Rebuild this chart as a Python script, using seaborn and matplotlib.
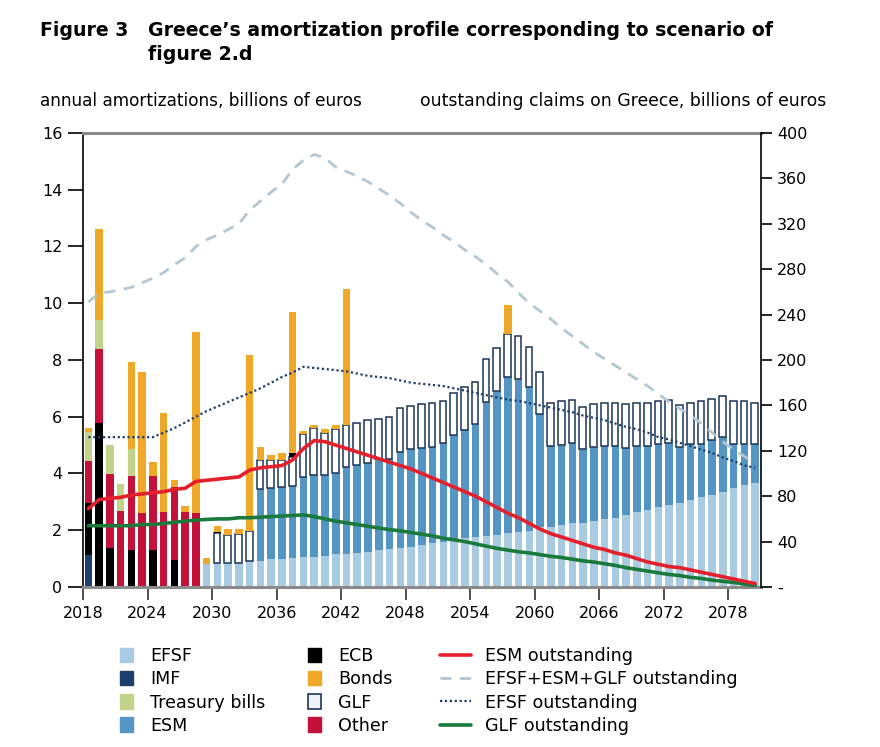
import numpy as np
import matplotlib
matplotlib.use("Agg")
import matplotlib.pyplot as plt
import seaborn as sns
from matplotlib.patches import Patch
from matplotlib.lines import Line2D
from matplotlib.ticker import FuncFormatter

# years 2018 .. 2080
years = list(range(2018, 2081))

# annual amortizations, billions of euros (left axis)
efsf = [0, 0, 0, 0, 0, 0, 0, 0, 0, 0, 0,
        0.80, 0.85, 0.85, 0.85, 0.92, 0.93, 0.97, 0.98, 1.02, 1.04,
        1.07, 1.10, 1.15, 1.18, 1.20, 1.24, 1.30, 1.33, 1.36, 1.42,
        1.48, 1.54, 1.60, 1.66, 1.72, 1.77, 1.79, 1.83, 1.89, 1.95,
        1.99, 2.10, 2.13, 2.19, 2.24, 2.27, 2.34, 2.39, 2.42, 2.54,
        2.66, 2.71, 2.81, 2.89, 2.97, 3.07, 3.16, 3.24, 3.36, 3.48,
        3.60, 3.65]
imf = [1.12] + [0] * 62
esm = [0] * 16 + [
        2.51, 2.51, 2.53, 2.54, 2.83, 2.88, 2.85, 2.88, 3.06, 3.10,
        3.14, 3.20, 3.17, 3.41, 3.43, 3.41, 3.41, 3.46, 3.70, 3.81,
        3.98, 4.74, 5.06, 5.50, 5.37, 5.07, 4.00, 2.84, 2.83, 2.85,
        2.58, 2.58, 2.58, 2.55, 2.36, 2.31, 2.26, 2.22, 2.17, 1.95,
        1.97, 1.89, 1.94, 1.91, 1.56, 1.44, 1.39]
glf = [0] * 12 + [
        1.05, 0.98, 1.00, 1.04, 1.04, 1.00, 0.97, 1.03, 1.52, 1.64,
        1.46, 1.53, 1.47, 1.47, 1.51, 1.42, 1.48, 1.53, 1.53, 1.55,
        1.55, 1.51, 1.49, 1.53, 1.49, 1.50, 1.52, 1.53, 1.53, 1.41,
        1.46, 1.53, 1.54, 1.51, 1.51, 1.52, 1.53, 1.53, 1.54, 1.53,
        1.53, 1.54, 1.54, 1.50, 1.46, 1.51, 1.44, 1.45, 1.53, 1.53,
        1.46]
ecb = [1.83, 5.77, 1.36, 0, 1.29, 0, 1.29, 0, 0.95, 0, 0,
       0, 0.05, 0, 0, 0, 0, 0, 0, 0.12] + [0] * 43
other = [1.50, 2.61, 2.62, 2.68, 2.62, 2.60, 2.62, 2.65, 2.56, 2.65, 2.60] + [0] * 52
tbills = [1.02, 1.03, 1.02, 0.95, 0.96] + [0] * 58
bonds = [0.12, 3.19, 0, 0, 3.05, 4.97, 0.48, 3.47, 0.26, 0.20, 6.37,
         0.21, 0.20, 0.20, 0.20, 6.22, 0.46, 0.17, 0.23, 4.97, 0.12,
         0.12, 0.15, 0.14, 4.78, 0, 0, 0, 0, 0, 0,
         0, 0, 0, 0, 0, 0, 0, 0, 1.00] + [0] * 23

# outstanding claims on Greece, billions of euros (right axis)
total_out = [251, 259, 260, 262, 264, 268, 272, 277, 284, 290, 300,
             306, 310, 315, 320, 332, 340, 348, 355, 368, 376,
             381, 378, 370, 366, 362, 357, 351, 345, 338, 330,
             323, 317, 310, 304, 297, 291, 284, 276, 269, 259,
             250, 243, 236, 228, 221, 214, 207, 201, 195, 189,
             183, 177, 170, 163, 157, 151, 144, 136, 128, 121,
             115, 109]
efsf_out = [132, 132, 132, 132, 132, 132, 132, 136, 140, 145, 150,
            155, 159, 163, 167, 171, 175, 180, 185, 189, 194,
            193, 192, 191, 190, 188, 186, 185, 184, 182, 180,
            179, 178, 177, 175, 173, 171, 169, 167, 165, 164,
            162, 160, 158, 156, 154, 151, 149, 147, 144, 141,
            139, 136, 132, 130, 127, 124, 121, 118, 114, 111,
            107, 105]
esm_out = [69, 77, 78, 79, 81, 82, 83, 84, 86, 87, 93,
           94, 95, 96, 97, 103, 105, 106, 107, 112, 122,
           129, 128, 125, 122, 119, 116, 113, 110, 107, 104,
           100, 96, 92, 88, 84, 80, 75, 70, 65, 61,
           56, 51, 47, 44, 41, 38, 35, 33, 30, 28,
           25, 22, 20, 18, 17, 15, 13, 11, 9, 7,
           5, 3]
glf_out = [54, 54, 54, 54, 54, 55, 55, 56, 57, 58, 59,
           59.5, 60, 60, 61, 61, 61.5, 62, 62.5, 63, 63.5,
           62, 60, 58, 56.5, 55, 53.5, 52, 50.5, 49.5, 48,
           46.5, 45, 43, 41.5, 40, 38, 36, 34, 32.5, 31,
           30, 28.5, 27, 26, 24.5, 23, 22, 20.5, 19, 17,
           15.5, 14, 12.5, 11, 10, 8.5, 7.5, 6, 5, 4,
           2.5, 1]

c_efsf, c_imf, c_tb, c_esm = "#a9cbe2", "#1d3f6e", "#c3d48a", "#5495c3"
c_ecb, c_bonds, c_glf_edge, c_other = "#000000", "#f0a828", "#1d3656", "#c4113a"
c_total = "#b3c7d3"

sns.set_theme(style="white")
plt.rcParams["font.family"] = ["DejaVu Sans"]
plt.rcParams["text.color"] = "black"
plt.rcParams["xtick.color"] = "black"
plt.rcParams["ytick.color"] = "black"

fig = plt.figure(figsize=(8.8, 7.47), dpi=100)
ax = fig.add_axes([0.0943, 0.2142, 0.7700, 0.6078])

layers = [("EFSF", efsf, c_efsf), ("IMF", imf, c_imf), ("ESM", esm, c_esm),
          ("GLF", glf, None), ("ECB", ecb, c_ecb), ("Other", other, c_other),
          ("Treasury bills", tbills, c_tb), ("Bonds", bonds, c_bonds)]

xs = np.array(years) + 0.15
bottom = np.zeros(len(years))
for name, vals, col in layers:
    vals = np.array(vals, dtype=float)
    m = vals > 0
    if col is None:
        ax.bar(xs[m], vals[m], width=0.62, bottom=bottom[m], align="edge",
               facecolor="white", edgecolor=c_glf_edge, linewidth=1.1)
    else:
        ax.bar(xs[m], vals[m], width=0.7, bottom=bottom[m], align="edge",
               color=col, linewidth=0)
    bottom += vals

ax.set_xlim(2018, 2081)
ax.set_ylim(0, 16)
ax.set_yticks(range(0, 17, 2))
ax.set_xticks(range(2018, 2079, 6))
ax.tick_params(axis="y", left=True, direction="out", length=11, width=1.2,
               color="black", labelcolor="black", labelsize=11.5, pad=4)
ax.tick_params(axis="x", bottom=True, direction="out", length=9, width=1.2,
               color="#333333", labelcolor="black", labelsize=11.5, pad=5)
for s in ["top", "bottom"]:
    ax.spines[s].set_color("#8a8a8a")
    ax.spines[s].set_linewidth(2.2)
ax.spines["left"].set_color("black")
ax.spines["left"].set_linewidth(1.2)
ax.spines["right"].set_visible(False)

# outstanding lines on the right axis
ax2 = ax.twinx()
lx = np.array(years) + 0.5
sns.lineplot(x=lx, y=total_out, ax=ax2, color=c_total, linewidth=2,
             linestyle=(0, (4, 3)))
sns.lineplot(x=lx, y=efsf_out, ax=ax2, color="#1d3f6e", linewidth=1.6,
             linestyle=(0, (1, 1.2)))
sns.lineplot(x=lx, y=glf_out, ax=ax2, color="#1a7a3c", linewidth=2.6)
sns.lineplot(x=lx, y=esm_out, ax=ax2, color="#e4202c", linewidth=2.6)
ax2.set_ylim(0, 400)
ax2.set_xlim(2018, 2081)
ax2.set_yticks(range(0, 401, 40))
ax2.yaxis.set_major_formatter(FuncFormatter(lambda v, p: "-" if v == 0 else f"{v:.0f}"))
ax2.tick_params(axis="y", right=True, direction="out", length=8, width=1.2,
                color="black", labelcolor="black", labelsize=11.5, pad=4)
for s in ["top", "bottom", "left"]:
    ax2.spines[s].set_visible(False)
ax2.spines["right"].set_color("black")
ax2.spines["right"].set_linewidth(1.2)
ax2.grid(False)
ax.grid(False)

# titles
fig.text(40 / 880, 1 - 30 / 747, "Figure 3", fontsize=13.6, fontweight="bold", va="center")
fig.text(148 / 880, 1 - 30 / 747, "Greece\u2019s amortization profile corresponding to scenario of",
         fontsize=13.6, fontweight="bold", va="center")
fig.text(148 / 880, 1 - 55 / 747, "figure 2.d", fontsize=13.6, fontweight="bold", va="center")
fig.text(40 / 880, 1 - 101 / 747, "annual amortizations, billions of euros", fontsize=12.2, va="center")
fig.text(826 / 880, 1 - 101 / 747, "outstanding claims on Greece, billions of euros",
         fontsize=12.4, va="center", ha="right")

# legends
leg_kw = dict(frameon=False, fontsize=12.6, borderpad=0, labelspacing=0.3,
              loc="upper left", borderaxespad=0)
h1 = [Patch(color=c_efsf, label="EFSF"), Patch(color=c_imf, label="IMF"),
      Patch(color=c_tb, label="Treasury bills"), Patch(color=c_esm, label="ESM")]
h2 = [Patch(color=c_ecb, label="ECB"), Patch(color=c_bonds, label="Bonds"),
      Patch(facecolor="#eef3fa", edgecolor=c_glf_edge, linewidth=1.2, label="GLF"),
      Patch(color=c_other, label="Other")]
h3 = [Line2D([], [], color="#e4202c", lw=2.6, label="ESM outstanding"),
      Line2D([], [], color=c_total, lw=2, ls=(0, (4, 3)), label="EFSF+ESM+GLF outstanding"),
      Line2D([], [], color="#1d3f6e", lw=1.6, ls=(0, (1, 1.2)), label="EFSF outstanding"),
      Line2D([], [], color="#1a7a3c", lw=2.6, label="GLF outstanding")]
fig.legend(handles=h1, bbox_to_anchor=(120 / 880, 1 - 647 / 747), handlelength=0.72,
           handleheight=0.9, handletextpad=1.0, **leg_kw)
fig.legend(handles=h2, bbox_to_anchor=(308 / 880, 1 - 647 / 747), handlelength=0.72,
           handleheight=0.9, handletextpad=1.0, **leg_kw)
fig.legend(handles=h3, bbox_to_anchor=(440 / 880, 1 - 647 / 747), handlelength=1.75,
           handletextpad=0.8, **leg_kw)

fig.savefig("out.png", dpi=100)
